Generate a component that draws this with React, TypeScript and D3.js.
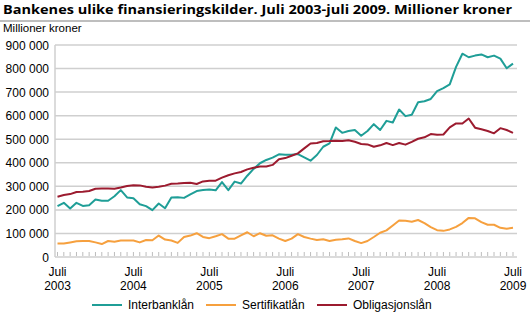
import React from "react";
import * as d3 from "d3";

const W = 530;
const H = 321;

const TITLE = "Bankenes ulike finansieringskilder. Juli 2003-juli 2009. Millioner kroner";
const Y_UNIT = "Millioner kroner";
const Y_TICKS = [0, 100000, 200000, 300000, 400000, 500000, 600000, 700000, 800000, 900000];
const X_LABELS = [
  { m: 0, top: "Juli", bottom: "2003" },
  { m: 12, top: "Juli", bottom: "2004" },
  { m: 24, top: "Juli", bottom: "2005" },
  { m: 36, top: "Juli", bottom: "2006" },
  { m: 48, top: "Juli", bottom: "2007" },
  { m: 60, top: "Juli", bottom: "2008" },
  { m: 72, top: "Juli", bottom: "2009" },
];

// Monthly values, Juli 2003 .. Juli 2009 (73 points), millioner kroner
const interbank = [
  216000, 230000, 206000, 230000, 217000, 220000, 244000, 239000, 239000, 258000,
  284000, 253000, 249000, 224000, 216000, 199000, 227000, 207000, 253000, 254000,
  251000, 266000, 280000, 284000, 287000, 283000, 318000, 284000, 320000, 312000,
  345000, 374000, 398000, 412000, 422000, 436000, 434000, 434000, 437000, 423000,
  409000, 433000, 468000, 482000, 550000, 527000, 535000, 539000, 515000, 535000,
  564000, 539000, 578000, 571000, 626000, 598000, 604000, 657000, 661000, 671000,
  704000, 717000, 733000, 807000, 863000, 848000, 855000, 860000, 848000, 855000,
  842000, 801000, 821000,
];
const sertifikat = [
  57000, 57000, 62000, 67000, 68000, 68000, 62000, 55000, 68000, 65000,
  70000, 70000, 70000, 62000, 72000, 71000, 91000, 74000, 70000, 60000,
  85000, 91000, 101000, 85000, 80000, 88000, 97000, 78000, 78000, 92000,
  105000, 88000, 101000, 90000, 92000, 78000, 68000, 78000, 97000, 85000,
  78000, 72000, 75000, 68000, 73000, 75000, 79000, 68000, 59000, 68000,
  85000, 103000, 113000, 134000, 155000, 154000, 150000, 157000, 144000, 127000,
  114000, 111000, 117000, 128000, 144000, 166000, 164000, 148000, 137000, 137000,
  124000, 120000, 124000,
];
const obligasjon = [
  256000, 263000, 267000, 276000, 277000, 280000, 290000, 291000, 291000, 290000,
  295000, 301000, 305000, 304000, 298000, 295000, 298000, 303000, 311000, 312000,
  314000, 315000, 310000, 321000, 324000, 324000, 337000, 347000, 355000, 361000,
  372000, 379000, 384000, 384000, 391000, 415000, 420000, 430000, 440000, 461000,
  482000, 484000, 491000, 492000, 494000, 492000, 496000, 489000, 480000, 478000,
  468000, 474000, 484000, 475000, 484000, 477000, 489000, 502000, 508000, 522000,
  519000, 520000, 550000, 567000, 567000, 588000, 549000, 542000, 535000, 525000,
  547000, 539000, 527000,
];

const SERIES = [
  { name: "Interbanklån", values: interbank, color: "#1f9e97" },
  { name: "Sertifikatlån", values: sertifikat, color: "#f6a03e" },
  { name: "Obligasjonslån", values: obligasjon, color: "#9c1b2f" },
];

const LEGEND_X = [92, 206, 317];

export default function App() {
  const plotLeft = 55;
  const plotRight = 517;
  const plotTop = 45;
  const plotBottom = 257;

  const x = d3.scaleLinear().domain([0, 72]).range([57.5, 513]);
  const y = d3.scaleLinear().domain([0, 900000]).range([plotBottom, plotTop]);
  const line = d3
    .line<number>()
    .x((_, i) => x(i))
    .y((d) => y(d));

  const months = d3.range(0, 73);
  const axisFont = "'Liberation Sans', Arial, sans-serif";

  return (
    <svg
      width={W}
      height={H}
      style={{ position: "absolute", left: 0, top: 0, background: "#fff" }}
    >
      <text
        x={3}
        y={14}
        fontFamily="'Open Sans', sans-serif"
        fontWeight="bold"
        fontSize={13}
        textLength={509}
        lengthAdjust="spacingAndGlyphs"
        fill="#000"
      >
        {TITLE}
      </text>
      <line x1={0} x2={W} y1={21} y2={21} stroke="#a8a8a8" strokeWidth={1.5} />
      <text x={3} y={32} fontFamily={axisFont} fontSize={11.5} fill="#000">
        {Y_UNIT}
      </text>

      {Y_TICKS.map((t) => (
        <g key={t}>
          {t > 0 && (
            <line
              x1={plotLeft}
              x2={plotRight}
              y1={y(t)}
              y2={y(t)}
              stroke="#cfcfcf"
              strokeWidth={1.5}
            />
          )}
          <text
            x={49}
            y={y(t) + 4.5}
            textAnchor="end"
            fontFamily={axisFont}
            fontSize={12}
            fill="#000"
          >
            {d3.format(",")(t).replace(/,/g, " ")}
          </text>
        </g>
      ))}
      <line x1={plotLeft} x2={plotLeft} y1={plotTop} y2={plotBottom} stroke="#cfcfcf" strokeWidth={1.5} />
      <line x1={plotLeft} x2={plotRight} y1={plotBottom} y2={plotBottom} stroke="#cfcfcf" strokeWidth={1.5} />
      {months.map((m) => (
        <line
          key={m}
          x1={x(m)}
          x2={x(m)}
          y1={plotBottom - 5}
          y2={plotBottom - 1}
          stroke="#bdbdbd"
          strokeWidth={1}
        />
      ))}
      {X_LABELS.map((l) => (
        <g key={l.m}>
          <text x={x(l.m)} y={276} textAnchor="middle" fontFamily={axisFont} fontSize={12} fill="#000">
            {l.top}
          </text>
          <text x={x(l.m)} y={290} textAnchor="middle" fontFamily={axisFont} fontSize={12} fill="#000">
            {l.bottom}
          </text>
        </g>
      ))}

      {SERIES.map((s) => (
        <path
          key={s.name}
          d={line(s.values) || ""}
          fill="none"
          stroke={s.color}
          strokeWidth={2}
          strokeLinejoin="round"
        />
      ))}

      {SERIES.map((s, i) => (
        <g key={s.name}>
          <line
            x1={LEGEND_X[i]}
            x2={LEGEND_X[i] + 30}
            y1={305}
            y2={305}
            stroke={s.color}
            strokeWidth={2}
          />
          <text
            x={LEGEND_X[i] + 36}
            y={309}
            fontFamily={axisFont}
            fontSize={12}
            fill="#000"
          >
            {s.name}
          </text>
        </g>
      ))}
    </svg>
  );
}
